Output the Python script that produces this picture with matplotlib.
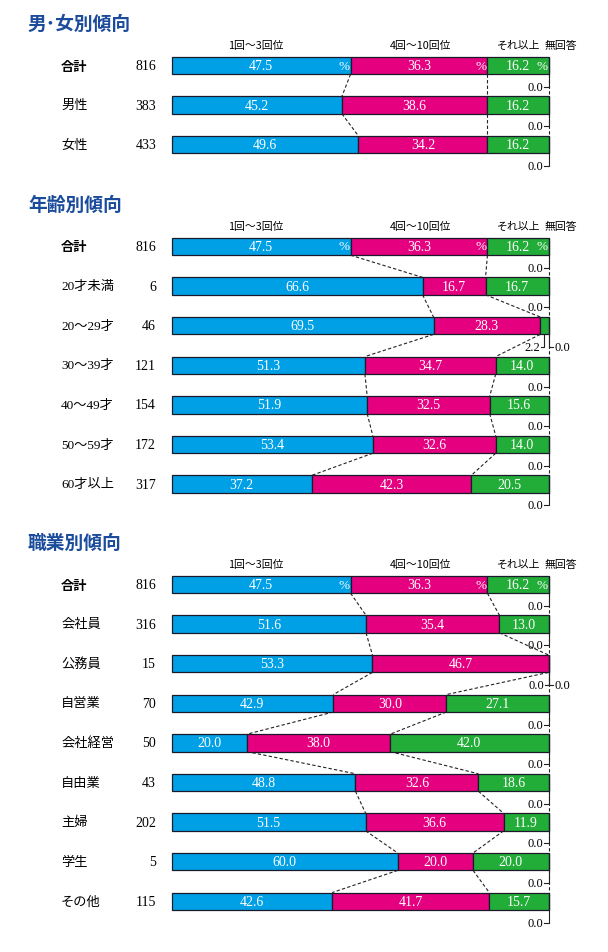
import matplotlib.pyplot as plt
import numpy as np

plt.rcParams['font.family'] = ['Liberation Serif', 'Noto Sans CJK JP']

# categories
heads = ['1回～3回位', '4回～10回位', 'それ以上', '無回答']
cols = ['#00A0E6', '#E4007F', '#22AC38', '#BBBBBB']

# section 1
sex_labels = ['合計', '男性', '女性']
sex_n = [816, 383, 433]
sex_vals = [[47.5, 36.3, 16.2, 0.0],
            [45.2, 38.6, 16.2, 0.0],
            [49.6, 34.2, 16.2, 0.0]]

# section 2
age_labels = ['合計', '20才未満', '20～29才', '30～39才', '40～49才', '50～59才', '60才以上']
age_n = [816, 6, 46, 121, 154, 172, 317]
age_vals = [[47.5, 36.3, 16.2, 0.0],
            [66.6, 16.7, 16.7, 0.0],
            [69.5, 28.3, 2.2, 0.0],
            [51.3, 34.7, 14.0, 0.0],
            [51.9, 32.5, 15.6, 0.0],
            [53.4, 32.6, 14.0, 0.0],
            [37.2, 42.3, 20.5, 0.0]]

# section 3
job_labels = ['合計', '会社員', '公務員', '自営業', '会社経営', '自由業', '主婦', '学生', 'その他']
job_n = [816, 316, 15, 70, 50, 43, 202, 5, 115]
job_vals = [[47.5, 36.3, 16.2, 0.0],
            [51.6, 35.4, 13.0, 0.0],
            [53.3, 46.7, 0.0, 0.0],
            [42.9, 30.0, 27.1, 0.0],
            [20.0, 38.0, 42.0, 0.0],
            [48.8, 32.6, 18.6, 0.0],
            [51.5, 36.6, 11.9, 0.0],
            [60.0, 20.0, 20.0, 0.0],
            [42.6, 41.7, 15.7, 0.0]]

W, H = 608, 953
U = 39.6          # row pitch in px
BH = 0.44         # bar height in rows
X0, X1 = 171.5, 548.5

fig = plt.figure(figsize=(W / 100, H / 100), dpi=100)

jp = 'Noto Sans CJK JP'
serif = ['Liberation Serif', 'Noto Sans CJK JP']


def draw_section(y0, title, labels, ns, vals):
    vals = np.array(vals)
    nr = len(labels)
    top = y0 - 0.5 * U
    ax = fig.add_axes([X0 / W, 1 - (top + nr * U) / H, (X1 - X0) / W, nr * U / H])
    ax.set_xlim(0, 100)
    ax.set_ylim(nr - 0.5, -0.5)
    ax.axis('off')

    y = np.arange(nr)
    left = np.zeros(nr)
    for k in range(4):
        ax.barh(y, vals[:, k], left=left, height=BH, color=cols[k],
                edgecolor='#1a1a2a', lw=0.9, zorder=3, clip_on=False)
        left = left + vals[:, k]
    cum = np.cumsum(vals, axis=1)

    # dashed connectors
    for i in range(nr - 1):
        for k in range(3):
            ax.plot([cum[i, k], cum[i + 1, k]], [i + BH / 2, i + 1 - BH / 2],
                    color='#222', lw=0.8, ls=(0, (3, 2)), zorder=2, clip_on=False)

    for i in range(nr):
        # values inside
        for k in range(3):
            v = vals[i, k]
            if v < 5:
                continue
            xc = cum[i, k] - v / 2
            ax.text(xc, i, f'{v:.1f}', color='white', fontsize=10,
                    ha='center', va='center', family=serif, zorder=4)
            if i == 0:
                ax.text(cum[i, k] - 1.8, i, '%', color='white', fontsize=9.5,
                        ha='center', va='center', family=serif, zorder=4)

        ly = i + 0.54
        g = vals[i, 2]
        if g < 5:
            # small "それ以上" label below, 無回答 to the right
            xc = cum[i, 2] - g / 2
            ax.plot([xc, xc, xc - 1.0], [i + BH / 2, ly, ly], color='#222', lw=0.8, clip_on=False)
            ax.text(xc - 1.2, ly, f'{g:.1f}', fontsize=9, ha='right', va='center', family=serif)
            ax.plot([100, 100, 101.3], [i + BH / 2, ly, ly], color='#222', lw=0.8, clip_on=False)
            ax.text(101.5, ly, f'{vals[i, 3]:.1f}', fontsize=9, ha='left', va='center', family=serif)
        else:
            ax.plot([100, 100, 98.9], [i + BH / 2, ly, ly], color='#222', lw=0.8, clip_on=False)
            ax.text(98.7, ly, f'{vals[i, 3]:.1f}', fontsize=9, ha='right', va='center', family=serif)

        # row label and n
        if labels[i] == '合計':
            ax.text(-29.3, i, labels[i], fontsize=9.5, ha='left', va='center',
                    family=jp, weight='bold')
        else:
            ax.text(-29.3, i, labels[i], fontsize=9.5, ha='left', va='center', family=serif)
        ax.text(-4.1, i, str(ns[i]), fontsize=10, ha='right', va='center', family=serif)

    # header and title
    for xh, h in zip([22.4, 66.0, 92.0, 103.4], heads):
        ax.text(xh, -0.52, h, fontsize=7.8, ha='center', va='center', family=jp)
    ax.text(-38.1, -1.05, title, fontsize=13.5, color='#1B4C9C', weight='bold',
            ha='left', va='center', family=jp)


draw_section(66.5, '男･女別傾向', sex_labels, sex_n, sex_vals)
draw_section(247.5, '年齢別傾向', age_labels, age_n, age_vals)
draw_section(585.5, '職業別傾向', job_labels, job_n, job_vals)

fig.savefig('out.png', dpi=100)
